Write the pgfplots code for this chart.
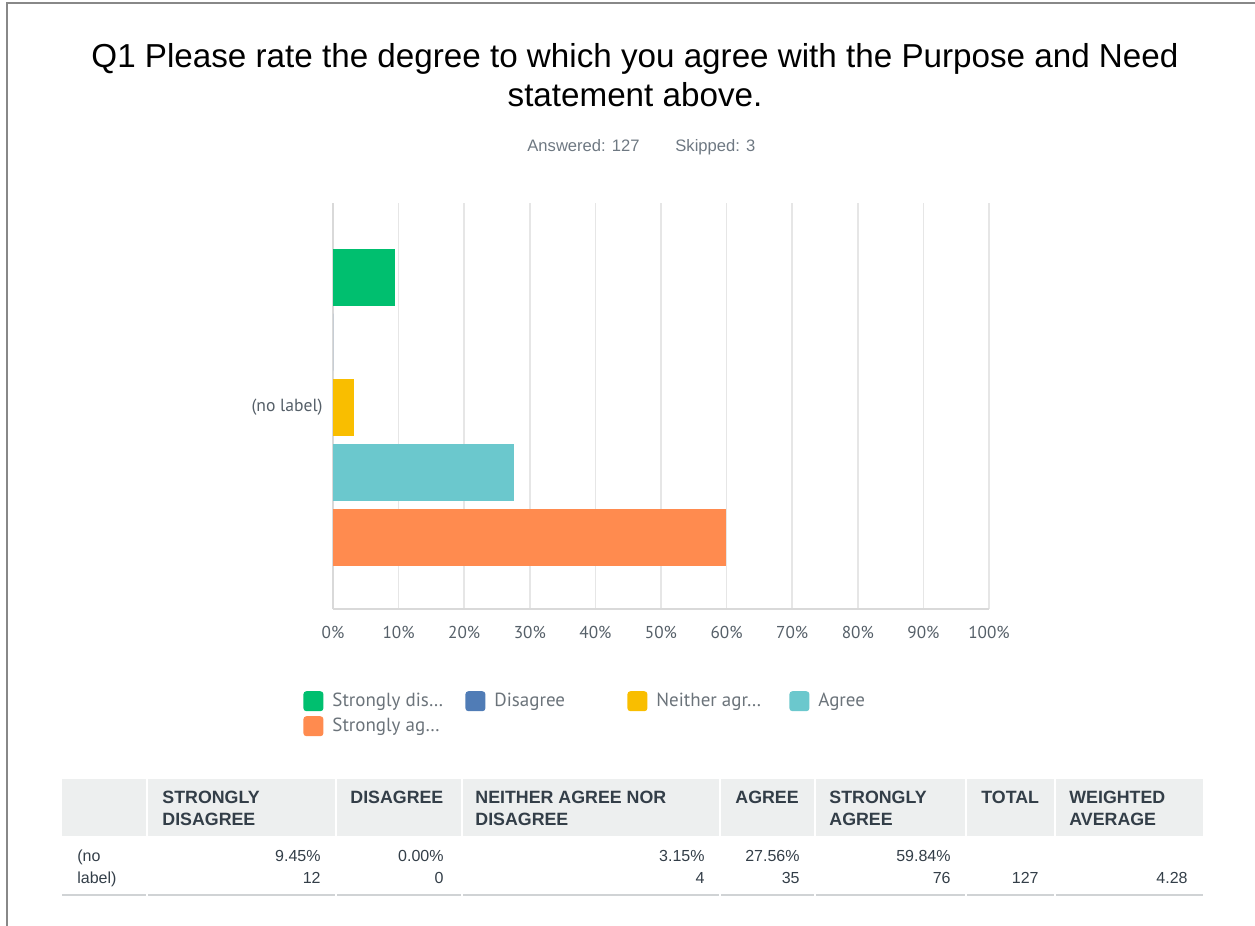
\documentclass[border=0pt]{standalone}
\usepackage{pgfplots}
\pgfplotsset{compat=1.18}
\usepackage{fontspec}
\setmainfont{Liberation Sans}
\newfontfamily\nsans{PT Sans}
\definecolor{sgreen}{HTML}{00BF6F}
\definecolor{sblue}{HTML}{507CB6}
\definecolor{syellow}{HTML}{F9BE00}
\definecolor{steal}{HTML}{6BC8CD}
\definecolor{sorange}{HTML}{FF8B4F}
\definecolor{bordergray}{HTML}{888888}
\definecolor{headgray}{HTML}{EDEFEF}
\definecolor{tickgray}{HTML}{555F68}
\definecolor{leggray}{HTML}{6B737A}
\definecolor{subgray}{HTML}{6E7882}
\definecolor{gridgray}{HTML}{E6E6E6}
\definecolor{axgray}{HTML}{D9D9D9}
\definecolor{tabtext}{HTML}{333E48}
\definecolor{linegray}{HTML}{D0D3D5}
\begin{document}
\begin{tikzpicture}
\begin{scope}[x=0.5pt,y=-0.5pt]
\path[use as bounding box] (0,0) rectangle (1255,926);
\draw[bordergray, line width=1.2pt] (7,926) -- (7,3) -- (1255,3);
% title
\node[anchor=base, font=\fontsize{16.6}{19}\selectfont, text=black, inner sep=0pt] at (635,68) {Q1 Please rate the degree to which you agree with the Purpose and Need};
\node[anchor=base, font=\fontsize{16.6}{19}\selectfont, text=black, inner sep=0pt] at (635,106) {statement above.};
\node[anchor=base west, font=\fontsize{8.3}{10}\selectfont, text=subgray, inner sep=0pt] at (527,151) {Answered: 127};
\node[anchor=base west, font=\fontsize{8.3}{10}\selectfont, text=subgray, inner sep=0pt] at (675,151) {Skipped: 3};
% table
\fill[headgray] (62,779) rectangle (1203,836);
\foreach \c in {147,336,462,720,815,966,1055} {\draw[white, line width=1pt] (\c,779) -- (\c,836);}
\foreach \a/\b in {62/146,148/335,337/461,463/719,721/814,816/965,967/1054,1056/1203} {\draw[linegray, line width=1pt] (\a,895) -- (\b,895);}
\begin{scope}[every node/.style={anchor=base west, inner sep=0pt, font=\fontsize{8.9}{10}\selectfont\bfseries, text=tabtext}]
\node at (162,803) {STRONGLY}; \node at (162,825) {DISAGREE};
\node at (350,803) {DISAGREE};
\node at (475,803) {NEITHER AGREE NOR}; \node at (475,825) {DISAGREE};
\node at (735,803) {AGREE};
\node at (829,803) {STRONGLY}; \node at (829,825) {AGREE};
\node at (981,803) {TOTAL};
\node at (1069,803) {WEIGHTED}; \node at (1069,825) {AVERAGE};
\end{scope}
\begin{scope}[every node/.style={anchor=base east, inner sep=0pt, font=\fontsize{8}{10}\selectfont, text=tabtext}]
\node[anchor=base west] at (77,861) {(no};
\node[anchor=base west] at (77,883) {label)};
\node at (321,861) {9.45\%}; \node at (321,883) {12};
\node at (444,861) {0.00\%}; \node at (444,883) {0};
\node at (705,861) {3.15\%}; \node at (705,883) {4};
\node at (800,861) {27.56\%}; \node at (800,883) {35};
\node at (951,861) {59.84\%}; \node at (951,883) {76};
\node at (1039,883) {127};
\node at (1188,883) {4.28};
\end{scope}
\end{scope}
\begin{axis}[
  at={(166.5pt,-304.5pt)}, anchor=south west,
  scale only axis, width=328pt, height=203pt,
  xbar, bar width=57,
  xmin=0, xmax=100, ymin=-202, ymax=204,
  xtick={0,10,...,100},
  xticklabel={\pgfmathprintnumber{\tick}\%},
  /pgf/number format/assume math mode=true,
  ytick={0}, yticklabels={(no label)},
  major tick length=0pt,
  axis x line*=bottom, axis y line*=left,
  axis line style={axgray, line width=1pt},
  xmajorgrids, grid style={gridgray, line width=0.8pt},
  xticklabel style={font=\nsans\fontsize{8.6}{10}\selectfont, text=tickgray, anchor=center, yshift=-11.5pt, inner sep=0pt},
  yticklabel style={font=\nsans\fontsize{8.8}{10}\selectfont, text=tickgray, anchor=east, xshift=-5pt, inner sep=0pt},
  legend columns=4,
  legend style={draw=none, fill=none, at={(-0.0457,-0.2015)}, anchor=north west, inner sep=0pt,
    font=\nsans\fontsize{9.5}{11}\selectfont, text=leggray,
    nodes={inner sep=0pt},
    row sep=2.5pt,
    /tikz/every odd column/.append style={column sep=4.5pt}},
  legend image code/.code={\fill[rounded corners=1.5pt] (0pt,-5pt) rectangle (10pt,5pt);},
]
\addplot[fill=sgreen, draw=none, bar shift=130] coordinates {(9.45,0)};
\addlegendentry{\makebox[66.5pt][l]{Strongly dis\ldots}}
\addplot[fill=sblue, draw=none, bar shift=65] coordinates {(0,0)};
\addlegendentry{\makebox[66.5pt][l]{Disagree}}
\addplot[fill=syellow, draw=none, bar shift=0] coordinates {(3.15,0)};
\addlegendentry{\makebox[66.5pt][l]{Neither agr\ldots}}
\addplot[fill=steal, draw=none, bar shift=-65] coordinates {(27.56,0)};
\addlegendentry{\makebox[66.5pt][l]{Agree}}
\addplot[fill=sorange, draw=none, bar shift=-130] coordinates {(59.84,0)};
\addlegendentry{\makebox[66.5pt][l]{Strongly ag\ldots}}
\end{axis}
\end{tikzpicture}
\end{document}
